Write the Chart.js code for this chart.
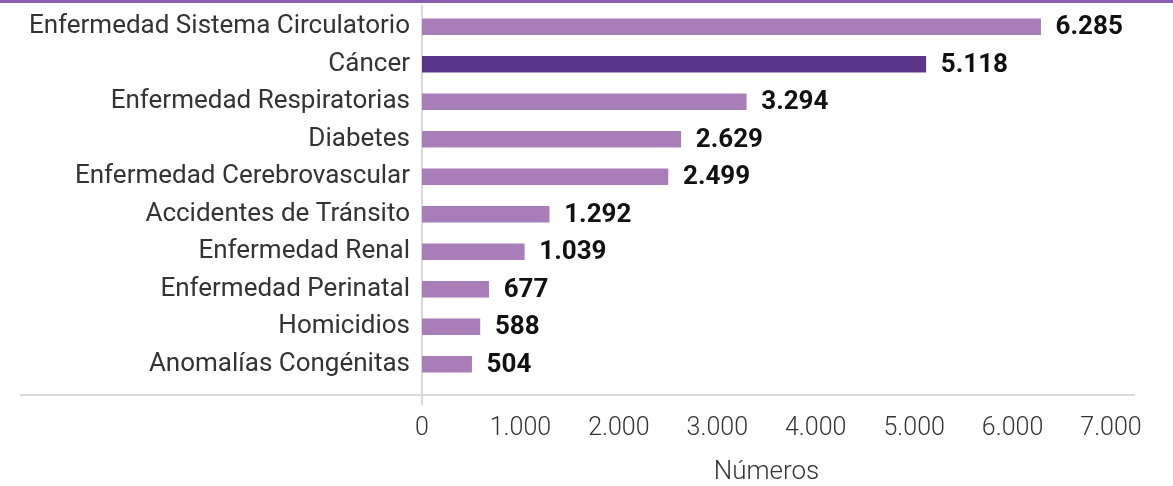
<!DOCTYPE html>
<html><head><meta charset="utf-8">
<script src="https://cdn.jsdelivr.net/npm/chart.js@4/dist/chart.umd.min.js"></script>
<style>html,body{margin:0;padding:0;background:#fff;}#wrap{width:1173px;height:486px;position:relative;}</style>
</head><body><div id="wrap"><canvas id="c" width="1173" height="486"></canvas></div>
<script>
const categories = ["Enfermedad Sistema Circulatorio","Cáncer","Enfermedad Respiratorias","Diabetes","Enfermedad Cerebrovascular","Accidentes de Tránsito","Enfermedad Renal","Enfermedad Perinatal","Homicidios","Anomalías Congénitas"];
const values = [6285,5118,3294,2629,2499,1292,1039,677,588,504];
const highlight = "Cáncer";
const axisTitle = "Números";
const xMax = 7000;
const xStep = 1000;

const fmt = v => String(Math.round(v)).replace(/\B(?=(\d{3})+(?!\d))/g, ".");
const barColors = categories.map(c => c === highlight ? "#5B358A" : "#A87DB8");

const decor = {
  id: "decor",
  beforeDatasetsDraw(chart) {
    const ctx = chart.ctx, a = chart.chartArea;
    ctx.save();
    ctx.strokeStyle = "#d9d9d9";
    ctx.lineWidth = 2;
    ctx.beginPath();
    ctx.moveTo(a.left, a.top - 3);
    ctx.lineTo(a.left, a.bottom + 22);
    ctx.moveTo(20, a.bottom + 12);
    ctx.lineTo(a.right + 24, a.bottom + 12);
    ctx.stroke();
    ctx.restore();
  },
  afterDraw(chart) {
    const ctx = chart.ctx;
    ctx.save();
    ctx.fillStyle = "#8A5DAE";
    ctx.fillRect(0, 0, chart.width, 3);
    const meta = chart.getDatasetMeta(0);
    ctx.font = "bold 26px Roboto";
    ctx.fillStyle = "#111";
    ctx.textAlign = "left";
    ctx.textBaseline = "middle";
    meta.data.forEach((bar, i) => {
      ctx.fillText(fmt(values[i]), bar.x + 15, bar.y + 1);
    });
    ctx.restore();
  }
};

new Chart(document.getElementById("c"), {
  type: "bar",
  data: { labels: categories, datasets: [{ data: values, backgroundColor: barColors, barThickness: 16, borderWidth: 0 }] },
  options: {
    indexAxis: "y",
    responsive: false,
    animation: false,
    layout: { padding: { top: 8, right: 62, left: 0, bottom: 0 } },
    plugins: { legend: { display: false }, tooltip: { enabled: false } },
    scales: {
      x: {
        min: 0, max: xMax,
        border: { display: false },
        grid: { display: false, drawTicks: false },
        ticks: { stepSize: xStep, padding: 31, color: "#333", font: { family: "Roboto", size: 25, weight: 300 }, callback: v => fmt(v) },
        title: { display: true, text: axisTitle, color: "#333", font: { family: "Roboto", size: 26, weight: 300, lineHeight: 1 }, padding: { top: 0, bottom: 1 } },
        afterFit: s => { s.height = 103; s.paddingLeft = 0; s.paddingRight = 0; }
      },
      y: {
        border: { display: false },
        grid: { display: false, drawTicks: false },
        ticks: { padding: 12, color: "#333", font: { family: "Roboto", size: 26, weight: 400 } },
        afterFit: s => { s.width = 422; s.paddingTop = 0; s.paddingBottom = 0; }
      }
    }
  },
  plugins: [decor]
});
</script></body></html>
